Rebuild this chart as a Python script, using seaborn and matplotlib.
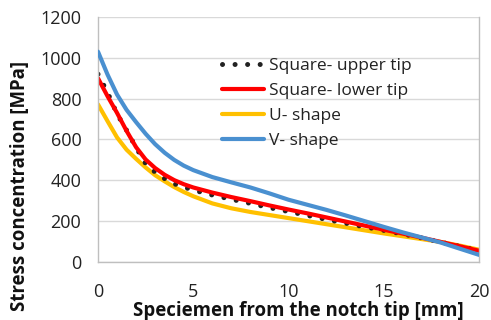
import matplotlib
matplotlib.use("Agg")
import matplotlib.pyplot as plt
import seaborn as sns
import pandas as pd

x_vals = [0, 0.5, 1, 1.5, 2, 2.5, 3, 3.5, 4, 4.5, 5, 6, 7, 8, 9, 10, 11, 12, 13, 14, 15, 16, 17, 18, 19, 20]
square_upper = [920, 830, 725, 645, 560, 482, 440, 408, 383, 367, 352, 328, 307, 287, 266, 247, 228, 208, 190, 172, 155, 137, 118, 97, 76, 55]
square_lower = [900, 812, 730, 642, 562, 502, 460, 427, 401, 381, 365, 340, 318, 298, 277, 257, 238, 218, 198, 178, 158, 139, 119, 98, 77, 55]
u_shape = [772, 690, 610, 550, 505, 463, 425, 395, 367, 343, 322, 287, 263, 245, 230, 215, 200, 185, 170, 155, 140, 126, 112, 98, 80, 60]
v_shape = [1030, 918, 820, 745, 685, 628, 577, 535, 500, 472, 450, 416, 390, 365, 336, 305, 280, 255, 228, 200, 172, 145, 120, 95, 65, 35]

series_names = ["Square- upper tip", "Square- lower tip", "U- shape", "V- shape"]
x_ticks = [0, 5, 10, 15, 20]
y_ticks = [0, 200, 400, 600, 800, 1000, 1200]

sns.set_style("white")
plt.rcParams["font.family"] = ["Open Sans", "DejaVu Sans"]

fig = plt.figure(figsize=(4.91, 3.20), dpi=100)
ax = fig.add_axes([0.1996, 0.18125, 0.7760, 0.7657])

colors = ["#222222", "#ff0000", "#ffc000", "#4a90d0"]
zorders = [2.2, 2.4, 2.1, 2.6]
data = [square_upper, square_lower, u_shape, v_shape]
for name, vals, c, z in zip(series_names, data, colors, zorders):
    df = pd.DataFrame({"x": x_vals, "y": vals})
    if name == "Square- upper tip":
        sns.lineplot(data=df, x="x", y="y", ax=ax, color=c, linewidth=3.6,
                     linestyle=(0, (0.01, 2.5)), dash_capstyle="round", label=name, zorder=z)
    else:
        sns.lineplot(data=df, x="x", y="y", ax=ax, color=c, linewidth=3.0, label=name,
                     zorder=z)

ax.set_xlim(0, 20)
ax.set_ylim(0, 1200)
ax.set_xticks(x_ticks)
ax.set_yticks(y_ticks)
ax.yaxis.grid(True, color="#d9d9d9", linewidth=1.0)
ax.xaxis.grid(False)
ax.set_axisbelow(True)
for s in ["left", "bottom", "right", "top"]:
    ax.spines[s].set_color("#bfbfbf")
    ax.spines[s].set_linewidth(1.0)
ax.spines["top"].set_visible(False)
ax.tick_params(axis="both", labelsize=13, colors="#bfbfbf", labelcolor="#222222",
               length=5, width=1.0, direction="out")
ax.tick_params(axis="x", pad=10)
ax.tick_params(axis="y", pad=7)

ax.set_xlabel("Speciemen from the notch tip [mm]", fontsize=13.4, fontweight="bold",
              color="#111111")
ax.xaxis.set_label_coords(0.525, -0.16)
ax.set_ylabel("Stress concentration [MPa]", fontsize=13.4, fontweight="bold", color="#111111")
ax.yaxis.set_label_coords(-0.178, 0.31)

leg = ax.legend(loc="upper left", bbox_to_anchor=(0.308, 0.86), frameon=False,
                fontsize=12.5, handlelength=2.4, handletextpad=0.3,
                labelspacing=0.5, borderaxespad=0)
for t in leg.get_texts():
    t.set_color("#222222")

fig.savefig("out.png", dpi=100)
